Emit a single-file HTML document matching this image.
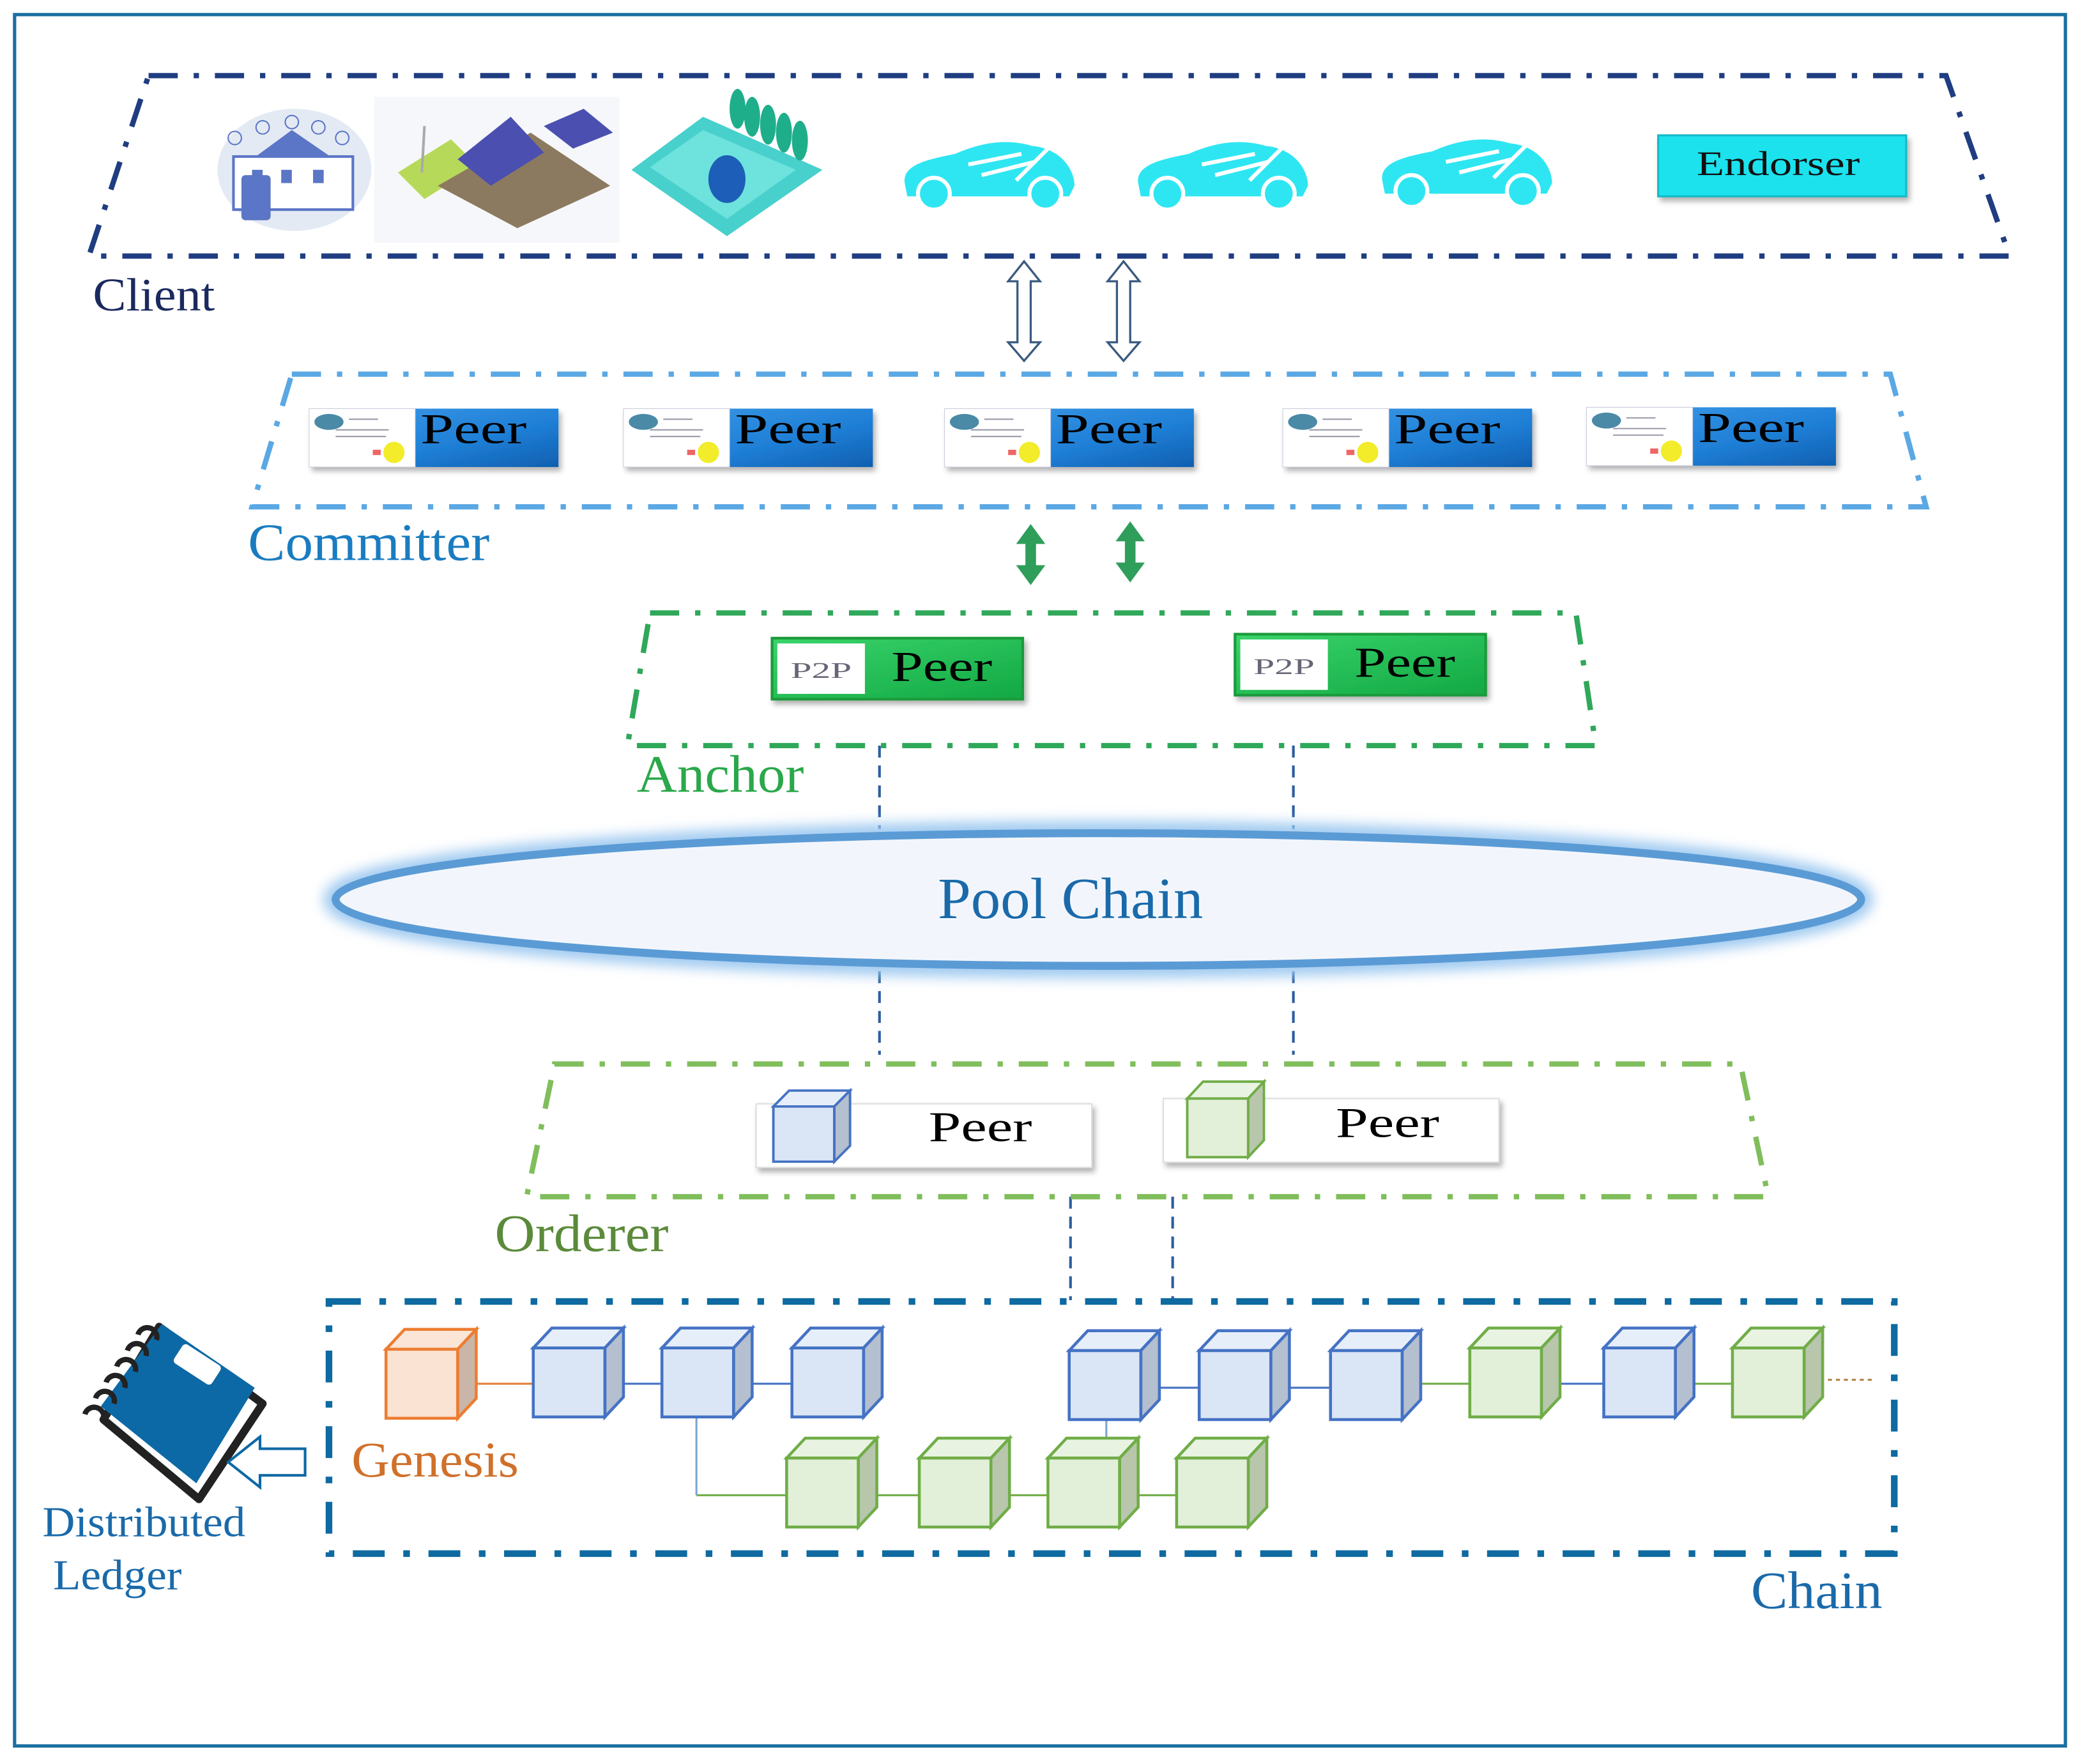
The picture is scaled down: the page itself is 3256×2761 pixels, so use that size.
<!DOCTYPE html>
<html><head><meta charset="utf-8">
<style>
html,body{margin:0;padding:0;background:#fff;}
svg{display:block;}
text{font-family:"Liberation Serif",serif;}
</style></head>
<body>
<svg width="3256" height="2761" viewBox="0 0 1568 1329.6" preserveAspectRatio="none" xmlns="http://www.w3.org/2000/svg">
<defs>
<linearGradient id="blueg" x1="0" y1="0" x2="1" y2="1">
<stop offset="0" stop-color="#3d9be8"/><stop offset="0.6" stop-color="#1f7fd6"/><stop offset="1" stop-color="#0f5fb0"/></linearGradient>
<linearGradient id="greeng" x1="0" y1="0" x2="1" y2="1">
<stop offset="0" stop-color="#3ad46a"/><stop offset="1" stop-color="#12a844"/></linearGradient>
<filter id="glow" x="-10%" y="-50%" width="120%" height="200%"><feGaussianBlur stdDeviation="5"/></filter>
<filter id="sh" x="-10%" y="-20%" width="130%" height="160%"><feDropShadow dx="2" dy="3" stdDeviation="2" flood-color="#000" flood-opacity="0.3"/></filter>
<g id="bcube">
<polygon points="0,0 14,-15 68,-15 54,0" fill="#e6eef9" stroke="#4472c4" stroke-width="2.2"/>
<polygon points="54,0 68,-15 68,37 54,52" fill="#b4bfcf" stroke="#4472c4" stroke-width="2.2"/>
<rect x="0" y="0" width="54" height="52" fill="#dae5f5" stroke="#4472c4" stroke-width="2.2"/>
</g>
<g id="gcube">
<polygon points="0,0 14,-15 68,-15 54,0" fill="#e9f3e2" stroke="#70ad47" stroke-width="2.2"/>
<polygon points="54,0 68,-15 68,37 54,52" fill="#b8c6ac" stroke="#70ad47" stroke-width="2.2"/>
<rect x="0" y="0" width="54" height="52" fill="#e2efd9" stroke="#70ad47" stroke-width="2.2"/>
</g>
<g id="car">
<path d="M2,28 C0,14 20,10 40,6 C58,-2 78,-6 98,0 C120,2 130,18 130,30 L126,38 L4,38 Z" fill="#2ee6f2"/>
<circle cx="24" cy="36" r="12" fill="#2ee6f2" stroke="#fff" stroke-width="3"/>
<circle cx="108" cy="36" r="12" fill="#2ee6f2" stroke="#fff" stroke-width="3"/>
<path d="M50,14 L90,6 M60,22 L100,12 M86,26 L110,2" stroke="#fff" stroke-width="3" fill="none"/>
</g>
<g id="peer">
<rect x="0" y="0" width="188" height="44" fill="url(#blueg)" filter="url(#sh)"/>
<rect x="0" y="0" width="80" height="44" fill="#fff" stroke="#ccd" stroke-width="0.5"/>
<ellipse cx="15" cy="10" rx="11" ry="6" fill="#4a8aa6"/>
<line x1="30" y1="8" x2="52" y2="8" stroke="#99a" stroke-width="1"/>
<line x1="20" y1="16" x2="60" y2="16" stroke="#99a" stroke-width="1"/>
<line x1="20" y1="21" x2="58" y2="21" stroke="#99a" stroke-width="1"/>
<circle cx="64" cy="33" r="8" fill="#f2ec2a"/>
<rect x="48" y="31" width="6" height="4" fill="#e66"/>
<text x="84" y="26" font-size="32" fill="#000" textLength="80" lengthAdjust="spacingAndGlyphs">Peer</text>
</g>
<g id="p2p">
<rect x="0" y="0" width="189" height="46" fill="url(#greeng)" stroke="#1a9a3a" stroke-width="2" filter="url(#sh)"/>
<rect x="4" y="4" width="66" height="38" fill="#fff"/>
<text x="14" y="30" font-family="Liberation Sans,sans-serif" font-size="17" fill="#667" textLength="46" lengthAdjust="spacingAndGlyphs">P2P</text>
<text x="90" y="32" font-size="32" fill="#000" textLength="76" lengthAdjust="spacingAndGlyphs">Peer</text>
</g>
</defs>

<rect x="11" y="11" width="1546" height="1305" fill="#fff" stroke="#1a6fa0" stroke-width="2.5"/>

<!-- Client -->
<polygon points="112,57 1467,57 1515,193 67,193" fill="none" stroke="#1f3d80" stroke-width="4" stroke-dasharray="22,12,4,12"/>
<text x="70" y="234" font-size="35" fill="#1a2a5e" textLength="92" lengthAdjust="spacingAndGlyphs">Client</text>

<!-- client images -->
<ellipse cx="222" cy="128" rx="58" ry="46" fill="#e4eaf4"/>
<polygon points="190,120 220,98 252,120" fill="#5b76c6"/>
<rect x="176" y="118" width="90" height="40" fill="#fff" stroke="#5b76c6" stroke-width="2"/>
<rect x="190" y="128" width="8" height="10" fill="#5b76c6"/><rect x="212" y="128" width="8" height="10" fill="#5b76c6"/><rect x="236" y="128" width="8" height="10" fill="#5b76c6"/>
<rect x="182" y="132" width="22" height="34" rx="3" fill="#5b76c6"/>
<circle cx="177" cy="104" r="5" fill="none" stroke="#5b76c6"/><circle cx="198" cy="96" r="5" fill="none" stroke="#5b76c6"/><circle cx="220" cy="92" r="5" fill="none" stroke="#5b76c6"/><circle cx="240" cy="96" r="5" fill="none" stroke="#5b76c6"/><circle cx="258" cy="104" r="5" fill="none" stroke="#5b76c6"/>
<rect x="282" y="73" width="185" height="110" fill="#f6f7fa"/>
<polygon points="300,130 340,105 360,125 320,150" fill="#b7d95a"/>
<polygon points="330,140 400,100 460,140 390,172" fill="#8c7a60"/>
<polygon points="345,120 385,88 410,115 370,140" fill="#4a4fb0"/>
<polygon points="410,95 440,82 462,100 432,112" fill="#4a4fb0"/>
<line x1="320" y1="95" x2="318" y2="130" stroke="#aaa" stroke-width="2"/>
<polygon points="476,128 530,88 620,128 548,178" fill="#48d0cc"/>
<polygon points="490,126 530,98 600,128 548,165" fill="#6ee2dc"/>
<ellipse cx="548" cy="135" rx="14" ry="18" fill="#1d5fb8"/>
<g fill="#1fae8a"><ellipse cx="556" cy="82" rx="6" ry="15"/><ellipse cx="567" cy="88" rx="6" ry="15"/><ellipse cx="579" cy="94" rx="6" ry="15"/><ellipse cx="591" cy="100" rx="6" ry="15"/><ellipse cx="603" cy="106" rx="6" ry="15"/></g>
<use href="#car" x="680" y="110"/>
<use href="#car" x="856" y="110"/>
<use href="#car" x="1040" y="108"/>
<rect x="1250" y="102" width="187" height="46" fill="#1fe2ee" stroke="#12b8c8" stroke-width="1.5" filter="url(#sh)"/>
<text x="1279" y="132" font-size="26" fill="#111" textLength="123" lengthAdjust="spacingAndGlyphs">Endorser</text>

<!-- hollow double arrows -->
<g fill="#fff" stroke="#3a5a80" stroke-width="1.6">
<polygon points="772,197 784,212 777,212 777,258 784,258 772,272 760,258 767,258 767,212 760,212"/>
<polygon points="847,197 859,212 852,212 852,258 859,258 847,272 835,258 842,258 842,212 835,212"/>
</g>

<!-- Committer -->
<polygon points="220,282 1425,282 1452,382 190,382" fill="none" stroke="#5aa8e4" stroke-width="4" stroke-dasharray="22,12,4,12"/>
<text x="187" y="422" font-size="40" fill="#1a7cc0" textLength="182" lengthAdjust="spacingAndGlyphs">Committer</text>
<use href="#peer" x="233" y="308"/>
<use href="#peer" x="470" y="308"/>
<use href="#peer" x="712" y="308"/>
<use href="#peer" x="967" y="308"/>
<use href="#peer" x="1196" y="307"/>

<!-- green solid arrows -->
<g fill="#2e9e5a">
<polygon points="777,395 788,410 781,410 781,426 788,426 777,441 766,426 773,426 773,410 766,410"/>
<polygon points="852,393 863,408 856,408 856,424 863,424 852,439 841,424 848,424 848,408 841,408"/>
</g>

<!-- Anchor -->
<polygon points="490,462 1188,462 1203,562 473,562" fill="none" stroke="#2fa85a" stroke-width="4" stroke-dasharray="22,12,4,12"/>
<text x="480" y="597" font-size="40" fill="#2aa84a" textLength="126" lengthAdjust="spacingAndGlyphs">Anchor</text>
<use href="#p2p" x="582" y="481"/>
<use href="#p2p" x="931" y="478"/>

<!-- dashed vertical lines -->
<g stroke="#2c5ea0" stroke-width="2" stroke-dasharray="9,6">
<line x1="663" y1="562" x2="663" y2="625"/><line x1="975" y1="562" x2="975" y2="625"/>
<line x1="663" y1="732" x2="663" y2="795"/><line x1="975" y1="732" x2="975" y2="795"/>
<line x1="807" y1="902" x2="807" y2="980"/><line x1="884" y1="902" x2="884" y2="980"/>
</g>

<!-- Pool chain -->
<ellipse cx="828" cy="678" rx="577" ry="52" fill="none" stroke="#9cc8f0" stroke-width="14" filter="url(#glow)"/>
<ellipse cx="828" cy="678" rx="575" ry="50" fill="#f2f6fc" stroke="#5b9bd5" stroke-width="6"/>
<text x="707" y="692" font-size="44" fill="#1a6aaa" textLength="200" lengthAdjust="spacingAndGlyphs">Pool Chain</text>

<!-- Orderer -->
<polygon points="418,802 1312,802 1333,902 397,902" fill="none" stroke="#80be5c" stroke-width="4" stroke-dasharray="22,12,4,12"/>
<text x="373" y="943" font-size="40" fill="#5a8a3a" textLength="131" lengthAdjust="spacingAndGlyphs">Orderer</text>
<rect x="570" y="832" width="253" height="48" fill="#fff" stroke="#ddd" filter="url(#sh)"/>
<g transform="translate(583,834) scale(0.85,0.8)"><use href="#bcube"/></g>
<text x="700" y="860" font-size="32" fill="#000" textLength="78" lengthAdjust="spacingAndGlyphs">Peer</text>
<rect x="877" y="828" width="253" height="48" fill="#fff" stroke="#ddd" filter="url(#sh)"/>
<g transform="translate(895,828) scale(0.85,0.85)"><use href="#gcube"/></g>
<text x="1007" y="857" font-size="32" fill="#000" textLength="78" lengthAdjust="spacingAndGlyphs">Peer</text>

<!-- Chain -->
<rect x="248" y="981" width="1180" height="190" fill="none" stroke="#0e6aa0" stroke-width="5" stroke-dasharray="24,14,5,14"/>
<text x="1320" y="1212" font-size="40" fill="#1a6aaa" textLength="99" lengthAdjust="spacingAndGlyphs">Chain</text>

<!-- connectors -->
<line x1="345" y1="1043" x2="402" y2="1043" stroke="#e0803a" stroke-width="1.5"/>
<g stroke="#4472c4" stroke-width="1.5" fill="none">
<line x1="456" y1="1043" x2="499" y2="1043"/><line x1="553" y1="1043" x2="597" y2="1043"/>
<line x1="860" y1="1046" x2="904" y2="1046"/><line x1="958" y1="1046" x2="1003" y2="1046"/>
<line x1="1162" y1="1043" x2="1209" y2="1043"/>
</g>
<g stroke="#70ad47" stroke-width="1.5" fill="none">
<line x1="1057" y1="1043" x2="1108" y2="1043"/><line x1="1263" y1="1043" x2="1306" y2="1043"/>
<line x1="647" y1="1127" x2="693" y2="1127"/><line x1="747" y1="1127" x2="790" y2="1127"/><line x1="844" y1="1127" x2="887" y2="1127"/>
<line x1="525" y1="1127" x2="593" y2="1127"/>
<line x1="1360" y1="1040" x2="1412" y2="1040" stroke-dasharray="3,3" stroke="#b08040"/>
</g>
<line x1="525" y1="1068" x2="525" y2="1127" stroke="#7aa6d0" stroke-width="1.5"/>
<line x1="834" y1="1070" x2="834" y2="1100" stroke="#7aa6d0" stroke-width="1.5"/>

<!-- Genesis cube -->
<g transform="translate(291,1017)">
<polygon points="0,0 14,-15 68,-15 54,0" fill="#fbe5d6" stroke="#ed7d31" stroke-width="2.2"/>
<polygon points="54,0 68,-15 68,37 54,52" fill="#c9b6a8" stroke="#ed7d31" stroke-width="2.2"/>
<rect x="0" y="0" width="54" height="52" fill="#fbe3d3" stroke="#ed7d31" stroke-width="2.2"/>
</g>
<use href="#bcube" x="402" y="1016"/>
<use href="#bcube" x="499" y="1016"/>
<use href="#bcube" x="597" y="1016"/>
<use href="#bcube" x="806" y="1018"/>
<use href="#bcube" x="904" y="1018"/>
<use href="#bcube" x="1003" y="1018"/>
<use href="#gcube" x="1108" y="1016"/>
<use href="#bcube" x="1209" y="1016"/>
<use href="#gcube" x="1306" y="1016"/>
<use href="#gcube" x="593" y="1099"/>
<use href="#gcube" x="693" y="1099"/>
<use href="#gcube" x="790" y="1099"/>
<use href="#gcube" x="887" y="1099"/>
<text x="265" y="1113" font-size="38" fill="#d0702a" textLength="126" lengthAdjust="spacingAndGlyphs">Genesis</text>

<!-- notebook -->
<g>
<polygon points="78,1070 120,1000 198,1058 150,1130" fill="#fff" stroke="#222" stroke-width="6" stroke-linejoin="round"/>
<polygon points="76,1060 122,998 192,1046 148,1118" fill="#0d69a5"/>
<rect x="132" y="1020" width="34" height="17" rx="3" fill="#fff" transform="rotate(33 149 1028)"/>
<g fill="none" stroke="#222" stroke-width="4">
<path d="M104,1006 a7,7 0 1 1 14,4"/><path d="M96,1018 a7,7 0 1 1 14,4"/><path d="M88,1030 a7,7 0 1 1 14,4"/><path d="M80,1042 a7,7 0 1 1 14,4"/><path d="M72,1054 a7,7 0 1 1 14,4"/><path d="M64,1066 a7,7 0 1 1 14,4"/>
</g>
</g>
<polygon points="230,1092 196,1092 196,1083 172,1102 196,1121 196,1112 230,1112" fill="#fff" stroke="#0d69a5" stroke-width="2"/>
<text x="32" y="1158" font-size="32" fill="#1a6aaa" textLength="153" lengthAdjust="spacingAndGlyphs">Distributed</text>
<text x="40" y="1198" font-size="32" fill="#1a6aaa" textLength="97" lengthAdjust="spacingAndGlyphs">Ledger</text>
</svg>
</body></html>
